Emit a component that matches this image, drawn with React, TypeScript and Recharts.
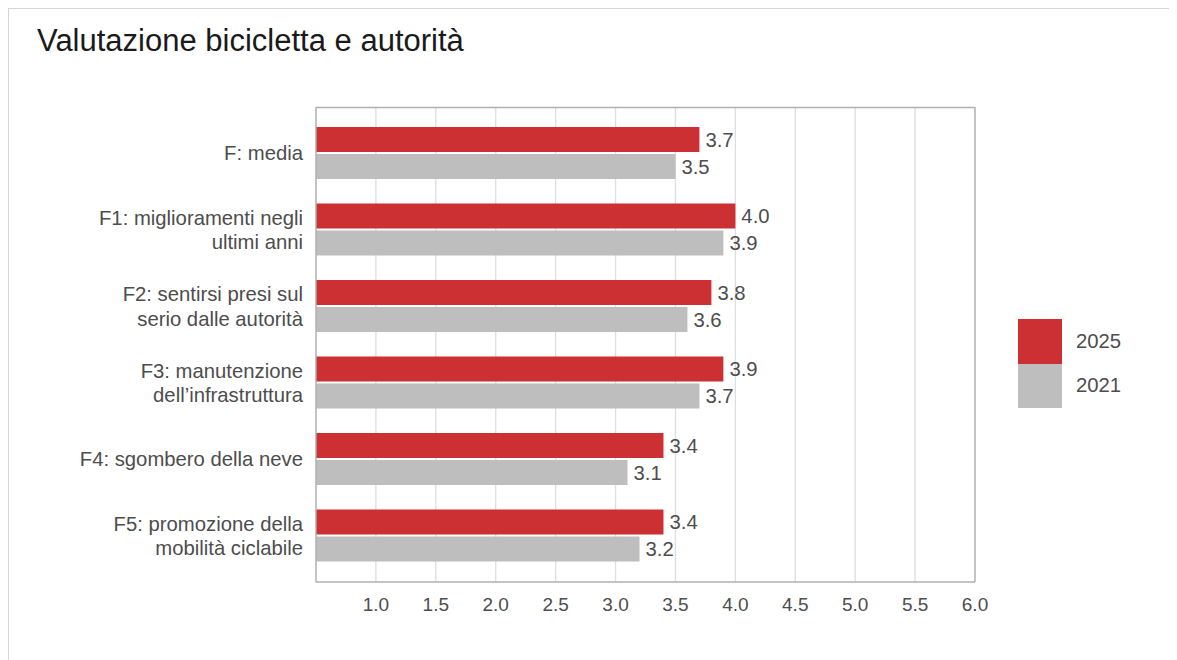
import React from 'react';
import { BarChart, Bar, XAxis, YAxis, CartesianGrid, LabelList, ReferenceLine } from 'recharts';

const categories = [
  'F: media',
  'F1: miglioramenti negli\nultimi anni',
  'F2: sentirsi presi sul\nserio dalle autorità',
  'F3: manutenzione\ndell\u2019infrastruttura',
  'F4: sgombero della neve',
  'F5: promozione della\nmobilità ciclabile',
];
const values2025 = [3.7, 4.0, 3.8, 3.9, 3.4, 3.4];
const values2021 = [3.5, 3.9, 3.6, 3.7, 3.1, 3.2];
const xTicks = [1.0, 1.5, 2.0, 2.5, 3.0, 3.5, 4.0, 4.5, 5.0, 5.5, 6.0];
const seriesNames = ['2025', '2021'];

const data = categories.map((c, i) => ({ name: c, y2025: values2025[i], y2021: values2021[i] }));

const RED = '#cc3033';
const GREY = '#bebebe';
const TEXT = '#4d4d4d';
const FRAME = '#b0b0b0';
const FONT = '"Liberation Sans", Arial, sans-serif';

const YTick = (props: any) => {
  const { x, y, payload } = props;
  const lines = String(payload.value).split('\n');
  const lh = 24.5;
  const start = -((lines.length - 1) * lh) / 2;
  return (
    <text x={x} y={y} textAnchor="end" fill={TEXT} fontSize={20.3} fontFamily={FONT}>
      {lines.map((l, i) => (
        <tspan key={i} x={x} dy={i === 0 ? start + 7 : lh}>{l}</tspan>
      ))}
    </text>
  );
};

const LegendBox = () => (
  <div style={{ position: 'absolute', left: 1010, top: 311, fontFamily: FONT, fontSize: 20.3, color: TEXT }}>
    {[RED, GREY].map((c, i) => (
      <div key={seriesNames[i]} style={{ display: 'flex', alignItems: 'center', height: 44.5 }}>
        <div style={{ width: 44, height: 44.5, background: c }} />
        <span style={{ marginLeft: 14 }}>{seriesNames[i]}</span>
      </div>
    ))}
  </div>
);

export default function App() {
  return (
    <div style={{ position: 'relative', width: 1169, height: 652, overflow: 'hidden', fontFamily: FONT }}>
      <BarChart
        width={1169}
        height={652}
        data={data}
        layout="vertical"
        margin={{ top: 99, right: 202, left: 0, bottom: 38 }}
        barSize={25}
        barGap={2}
        style={{ position: 'absolute', left: 0, top: 0 }}
      >
        <CartesianGrid horizontal={false} stroke="#dedede" strokeWidth={1.3} />
        <CartesianGrid vertical={false} horizontalPoints={[99.5]} stroke={FRAME} strokeWidth={1.3} />
        <XAxis
          type="number"
          domain={[0.5, 6]}
          ticks={xTicks}
          tickFormatter={(v: number) => v.toFixed(1)}
          allowDataOverflow
          height={40}
          tickLine={false}
          axisLine={{ stroke: FRAME, strokeWidth: 1.3 }}
          tick={{ fill: TEXT, fontSize: 19, fontFamily: FONT }}
          tickMargin={10}
        />
        <YAxis
          type="category"
          dataKey="name"
          width={308}
          padding={{ top: 8, bottom: 8 }}
          tickLine={false}
          axisLine={{ stroke: FRAME, strokeWidth: 1.3 }}
          tick={<YTick />}
          tickMargin={7}
          interval={0}
        />
        <ReferenceLine x={6} stroke={FRAME} strokeWidth={1.3} />
        <Bar dataKey="y2025" name={seriesNames[0]} fill={RED} isAnimationActive={false}>
          <LabelList dataKey="y2025" position="right" offset={6} formatter={(v: any) => Number(v).toFixed(1)} fill={TEXT} fontSize={20.3} fontFamily={FONT} />
        </Bar>
        <Bar dataKey="y2021" name={seriesNames[1]} fill={GREY} isAnimationActive={false}>
          <LabelList dataKey="y2021" position="right" offset={6} formatter={(v: any) => Number(v).toFixed(1)} fill={TEXT} fontSize={20.3} fontFamily={FONT} />
        </Bar>
      </BarChart>
      <div style={{ position: 'absolute', left: 29, top: 15, fontSize: 31, color: '#1a1a1a', fontFamily: FONT, whiteSpace: 'nowrap' }}>
        Valutazione bicicletta e autorità
      </div>
      <LegendBox />
      <div style={{ position: 'absolute', left: 0, top: 0, width: 1168, height: 700, border: '1px solid #d6d6d6', boxSizing: 'border-box', pointerEvents: 'none' }} />
    </div>
  );
}
